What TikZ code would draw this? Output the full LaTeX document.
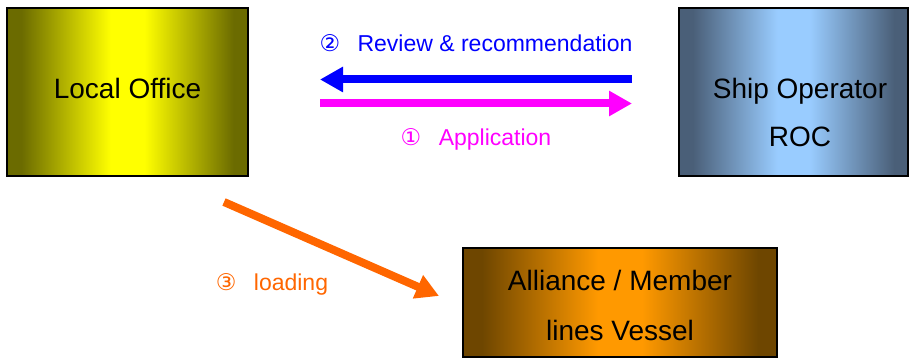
\documentclass[tikz,border=0pt]{standalone}
\usepackage{fontspec}
\setmainfont{Liberation Sans}
\newfontfamily\symfont{DejaVu Sans}
\usetikzlibrary{arrows.meta}
\definecolor{oliveedge}{RGB}{107,107,0}
\definecolor{yellowmid}{RGB}{255,255,0}
\definecolor{steeledge}{RGB}{74,95,120}
\definecolor{skymid}{RGB}{153,204,255}
\definecolor{brownedge}{RGB}{110,70,0}
\definecolor{orangemid}{RGB}{255,153,0}
\definecolor{arrblue}{RGB}{0,0,255}
\definecolor{arrpink}{RGB}{255,0,255}
\definecolor{arrorange}{RGB}{255,102,0}
\pgfdeclarehorizontalshading{yellowshade}{100bp}{color(0bp)=(oliveedge); color(28bp)=(oliveedge); color(46.5bp)=(yellowmid); color(53.5bp)=(yellowmid); color(72bp)=(oliveedge); color(100bp)=(oliveedge)}
\pgfdeclarehorizontalshading{blueshade}{100bp}{color(0bp)=(steeledge); color(28bp)=(steeledge); color(46.5bp)=(skymid); color(53.5bp)=(skymid); color(72bp)=(steeledge); color(100bp)=(steeledge)}
\pgfdeclarehorizontalshading{orangeshade}{100bp}{color(0bp)=(brownedge); color(28bp)=(brownedge); color(46.5bp)=(orangemid); color(53.5bp)=(orangemid); color(72bp)=(brownedge); color(100bp)=(brownedge)}
\begin{document}
\begin{tikzpicture}[x=1pt,y=-1pt,
  box/.style={draw=black, line width=2pt, inner sep=0pt, rectangle},
  boxtext/.style={font=\fontsize{28}{32}\selectfont, inner sep=0pt, anchor=base},
  lbl/.style={font=\fontsize{23}{27}\selectfont, inner sep=0pt, anchor=base},
  fat/.style={line width=8pt, -{Triangle[length=23pt,width=24pt]}}]
\useasboundingbox (0,0) rectangle (910,358);
% boxes
\node[box, minimum width=241pt, minimum height=168pt, shading=yellowshade] (office) at (127.5,92) {};
\node[box, minimum width=229pt, minimum height=168pt, shading=blueshade] (ship) at (793.5,92) {};
\node[box, minimum width=314pt, minimum height=109pt, shading=orangeshade] (alliance) at (620,302.5) {};
% box texts
\node[boxtext] (officetext) at (127.5,99) {Local Office};
\node[boxtext] (shiptext1) at (800,99) {Ship Operator};
\node[boxtext] (shiptext2) at (800,147) {ROC};
\node[boxtext] (alltext1) at (620,290) {Alliance / Member};
\node[boxtext] (alltext2) at (620,340) {lines Vessel};
% arrows
\coordinate (bstart) at (632,79.5);
\coordinate (bend) at (320,79.5);
\coordinate (pstart) at (320,103.5);
\coordinate (pend) at (632,103.5);
\coordinate (ostart) at (224,202);
\coordinate (oend) at (439,296);
\draw[fat, arrblue] (bstart) -- (bend);
\draw[fat, arrpink] (pstart) -- (pend);
\draw[fat, arrorange] (ostart) -- (oend);
% labels
\node[lbl, text=arrblue] (revlbl) at (476,52) {{\symfont ②}\hspace{11pt} Review \& recommendation};
\node[lbl, text=arrpink] (applbl) at (476,146) {{\symfont ①}\hspace{11pt} Application};
\node[lbl, text=arrorange] (loadlbl) at (272,290) {{\symfont ③}\hspace{11pt} loading};
\end{tikzpicture}
\end{document}
